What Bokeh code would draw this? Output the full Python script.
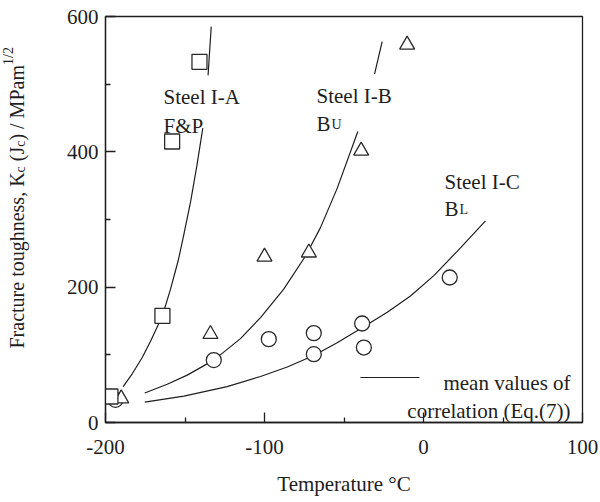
from bokeh.embed import file_html
from bokeh.layouts import row
from bokeh.models import CustomJSTickFormatter, FixedTicker, Label, Range1d
from bokeh.plotting import figure
from bokeh.resources import INLINE
import math

NAN = float("nan")

# Measured fracture toughness Kc (Jc) [MPa m^1/2] against temperature [deg C]
temp_a = [-196.9, -164.2, -158.1, -140.9]
kc_a = [38.4, 157.7, 415.3, 533.0]

temp_b = [-190.1, -134.0, -100.0, -72.1, -39.2, -10.3]
kc_b = [35.5, 130.6, 244.9, 251.0, 401.5, 558.2]

temp_c = [-193.7, -131.9, -97.3, -69.0, -69.0, -38.6, -37.5, 16.5]
kc_c = [33.5, 92.2, 123.2, 132.1, 101.0, 146.3, 110.8, 214.3]

# Mean correlation curves (Eq. 7); NaN leaves the gap where each steel is labelled
curve_a_t = [-188.9, -183.2, -176.9, -171.9, -164.2, -159.1, -154.3, -150.8,
             -146.5, -142.5, -138.8, NAN, -135.5, -133.5]
curve_a_k = [53.0, 72.0, 96.0, 119.0, 157.7, 197.0, 239.0, 277.0,
             326.0, 380.0, 435.0, NAN, 513.0, 585.0]

curve_b_t = [-175.3, -161.2, -148.6, -131.9, -115.1, -102.5, -87.9, -74.2,
             -64.8, -54.3, -41.3, NAN, -30.8, -26.0]
curve_b_k = [43.5, 56.5, 70.0, 92.2, 124.0, 155.0, 197.0, 246.0,
             288.0, 346.0, 430.0, NAN, 515.0, 563.0]

curve_c_t = [-175.3, -150.7, -123.5, -102.5, -85.7, -69.0, -54.3, -38.6,
             -22.8, -8.2, 6.5, 21.2, 39.0]
curve_c_k = [30.0, 39.0, 53.0, 68.0, 82.0, 99.0, 118.0, 140.0,
             163.0, 187.0, 217.0, 253.0, 298.0]

x_major = [-200, -100, 0, 100]
x_minor = [-150, -50, 50]
y_major = [0, 200, 400, 600]
y_minor = [100, 300, 500]

INK = "#1e1e1e"
SERIF = "Liberation Serif"
TITLE_W = 40      # strip that carries the y-axis title
FRAME_H = 406     # plot frame height in px (502 - 16 top - 80 bottom)

p = figure(
    width=600 - TITLE_W, height=502,
    x_range=Range1d(-200, 100), y_range=Range1d(0, 600),
    output_backend="svg", toolbar_location=None,
    min_border_left=105 - TITLE_W, min_border_right=18,
    min_border_top=16, min_border_bottom=80,
)
p.grid.visible = False
p.background_fill_color = "white"
p.border_fill_color = "white"
p.outline_line_color = INK
p.outline_line_width = 1.3

for ax in (p.xaxis[0], p.yaxis[0]):
    ax.axis_line_color = INK
    ax.axis_line_width = 1.3
    ax.major_tick_line_color = INK
    ax.minor_tick_line_color = INK
    ax.major_tick_line_width = 1.3
    ax.minor_tick_line_width = 1.3
    ax.major_tick_in = 10
    ax.major_tick_out = 0
    ax.minor_tick_in = 5
    ax.minor_tick_out = 0
    ax.major_label_text_font = SERIF
    ax.major_label_text_font_size = "21px"
    ax.major_label_text_color = INK
    ax.axis_label_text_font = SERIF
    ax.axis_label_text_font_style = "normal"
    ax.axis_label_text_color = INK
    # plain hyphen for negative values
    ax.formatter = CustomJSTickFormatter(code="return tick.toFixed(0)")

p.xaxis.ticker = FixedTicker(ticks=x_major, minor_ticks=x_minor)
p.yaxis.ticker = FixedTicker(ticks=y_major, minor_ticks=y_minor)
p.xaxis.major_label_standoff = 17
p.yaxis.major_label_standoff = 7
p.xaxis.axis_label = "Temperature °C"
p.xaxis.axis_label_text_font_size = "21px"
p.xaxis.axis_label_standoff = 15
p.yaxis.axis_label = None

# correlation curves
for t, k in ((curve_a_t, curve_a_k), (curve_b_t, curve_b_k), (curve_c_t, curve_c_k)):
    p.line(t, k, line_color=INK, line_width=1.2)

# measured points: open markers drawn over the curves
marker_style = dict(size=15, fill_color="white", line_color="#2a2a2a", line_width=1.3)
p.scatter(temp_c, kc_c, marker="circle", **marker_style)
p.scatter(temp_b, kc_b, marker="triangle", **marker_style)
p.scatter(temp_a, kc_a, marker="square", **marker_style)


def note(fig, x, y, text, size=21, align="left", x_offset=0, angle=0.0):
    fig.add_layout(Label(
        x=x, y=y, text=text, x_offset=x_offset, angle=angle,
        text_font=SERIF, text_font_size=f"{size}px", text_color=INK,
        text_align=align, text_baseline="alphabetic",
    ))


# steel identifiers
note(p, -163.5, 480.3, "Steel I-A")
note(p, -163.5, 438.5, "F&P")
note(p, -67.3, 482.8, "Steel I-B")
note(p, -67.3, 441.0, "B")
note(p, -67.3, 441.0, "U", size=14, x_offset=15)
note(p, 13.2, 354.7, "Steel I-C")
note(p, 13.2, 315.4, "B")
note(p, 13.2, 315.4, "L", size=14, x_offset=15)

# legend key for the correlation line
p.line([-39.7, -2.5], [66.5, 66.5], line_color=INK, line_width=1.2)
note(p, 92.5, 58.7, "mean values of", align="right")
note(p, 92.5, 17.3, "correlation (Eq.(7))", align="right")

# y-axis title with sub/superscripts, set in a narrow strip; its frame lines
# up with the plot frame, so both ranges are plain pixels from its lower-left.
# Each piece: text, font px, sideways shift (px), advance to next piece (px);
# word gaps at piece boundaries go into the advance since SVG drops edge spaces.
strip = figure(
    width=TITLE_W, height=502,
    x_range=Range1d(0, TITLE_W), y_range=Range1d(0, FRAME_H),
    x_axis_type=None, y_axis_type=None,
    output_backend="svg", toolbar_location=None,
    min_border_left=0, min_border_right=0,
    min_border_top=16, min_border_bottom=80,
)
strip.grid.visible = False
strip.outline_line_color = None
strip.background_fill_color = "white"
strip.border_fill_color = "white"

y_title = [
    ("Fracture toughness, K", 20, 0, 176.1),
    ("c", 14, 4, 11.2),
    ("(J", 20, 0, 14.4),
    ("c", 14, 4, 6.2),
    (") / MPam", 20, 0, 75.6),
    ("1/2", 14, -8, 17.9),
]
pos = 74.0
for text, size, shift, advance in y_title:
    note(strip, 16 + shift, pos, text, size=size, angle=math.pi / 2)
    pos += advance

layout = row(strip, p, spacing=0)
open("out.html", "w").write(file_html(layout, INLINE))
